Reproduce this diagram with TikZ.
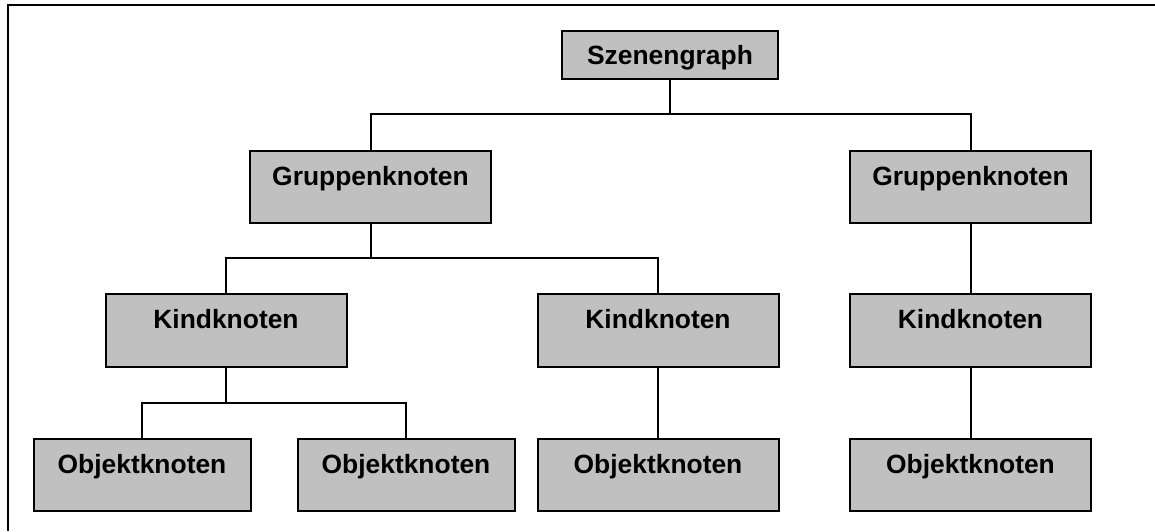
\documentclass[tikz,border=0pt]{standalone}
\usepackage{fontspec}
\setmainfont{Liberation Sans}
\definecolor{boxgray}{HTML}{C0C0C0}
\begin{document}
\begin{tikzpicture}[x=0.5pt, y=-0.5pt,
  box/.style={draw, line width=1pt, fill=boxgray, inner sep=0pt,
    font=\fontsize{13.2}{15}\selectfont\bfseries, text height=17pt},
  flat/.style={box, minimum width=108pt, text height=16.5pt, text depth=7.5pt},
  wide/.style={box, minimum width=120.5pt, text depth=19pt},
  narrow/.style={box, minimum width=108.5pt, text depth=19pt},
  link/.style={line width=1pt}]
  \useasboundingbox (0,0) rectangle (1155,531);
  % partial frame: top and left edges
  \draw[line width=1.3pt] (8,531) -- (8,5) -- (1155,5);

  % root
  \node[flat] (sz) at (670,55) {Szenengraph};
  % group nodes
  \node[wide] (g1) at (370.5,187) {Gruppenknoten};
  \node[wide] (g2) at (970.5,187) {Gruppenknoten};
  % child nodes
  \node[wide, text depth=19.5pt] (k1) at (226,330.5) {Kindknoten};
  \node[wide, text depth=19.5pt] (k2) at (658,330.5) {Kindknoten};
  \node[wide, text depth=19.5pt] (k3) at (970.5,330.5) {Kindknoten};
  % object nodes
  \node[narrow] (o1) at (142,475) {Objektknoten};
  \node[narrow] (o2) at (406,475) {Objektknoten};
  \node[wide] (o3) at (658,475) {Objektknoten};
  \node[wide] (o4) at (970.5,475) {Objektknoten};

  % bus junctions
  \coordinate (b0) at (670,114);
  \coordinate (b1) at (370.5,258);
  \coordinate (b2) at (226,403);

  % connectors
  \draw[link] (sz.south) -- (b0);
  \draw[link] (b0) -| (g1.north);
  \draw[link] (b0) -| (g2.north);
  \draw[link] (g1.south) -- (b1);
  \draw[link] (b1) -| (k1.north);
  \draw[link] (b1) -| (k2.north);
  \draw[link] (g2.south) -- (k3.north);
  \draw[link] (k1.south) -- (b2);
  \draw[link] (b2) -| (o1.north);
  \draw[link] (b2) -| (o2.north);
  \draw[link] (k2.south) -- (o3.north);
  \draw[link] (k3.south) -- (o4.north);
\end{tikzpicture}
\end{document}
